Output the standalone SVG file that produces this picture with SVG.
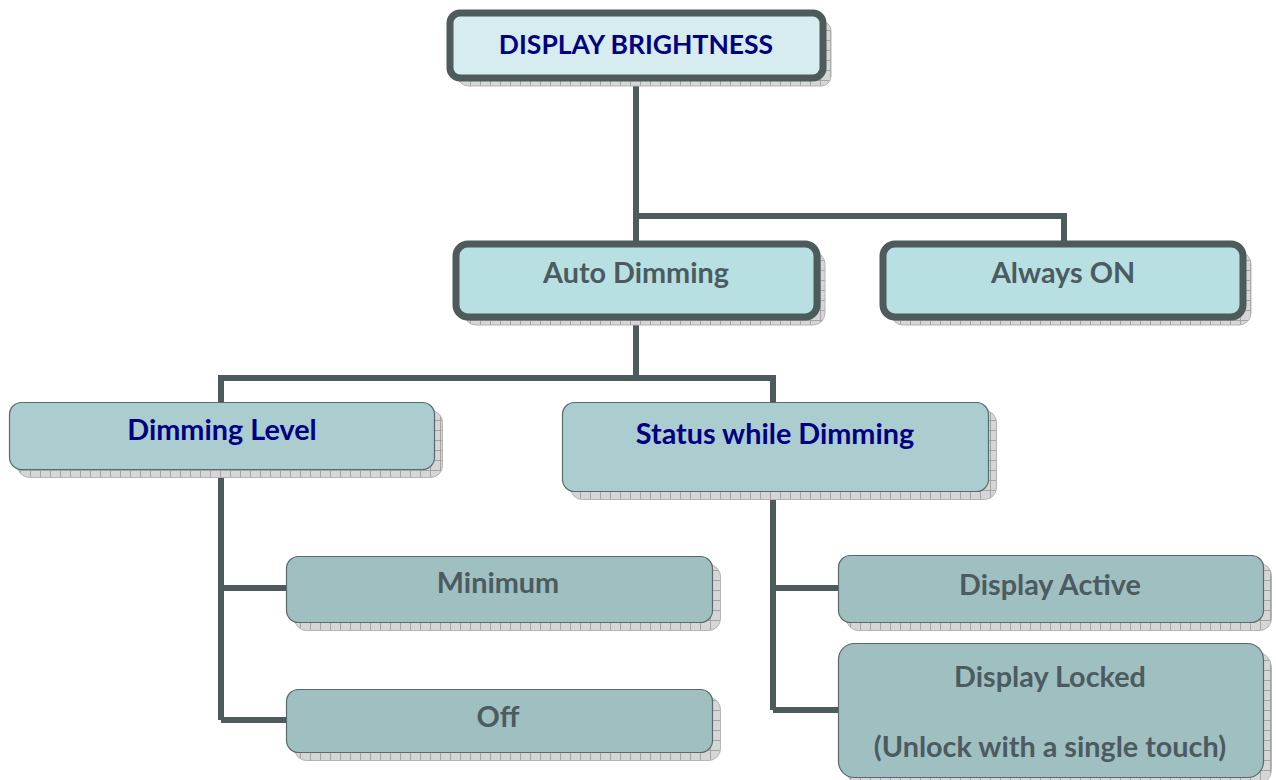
<svg xmlns="http://www.w3.org/2000/svg" width="1276" height="780" viewBox="0 0 1276 780">
<defs>
<pattern id="hatch" width="10" height="10" patternUnits="userSpaceOnUse">
<rect width="10" height="10" fill="#d6d6d6"/>
<path d="M0 0.5H10M0.5 0V10" stroke="#a4a4a4" stroke-width="1"/>
</pattern>
<style>
.shadow{fill:url(#hatch);stroke:#b4b4b4;stroke-width:1}
.thick{stroke:#4d5b5d;stroke-width:7}
.thin{stroke:#5a6a6c;stroke-width:1.2}
.t{font-family:Lato,"Liberation Sans",sans-serif;font-weight:bold;font-size:28.8px;text-anchor:middle}
.title{font-size:26.5px}
.navy{fill:#000080}
.grey{fill:#4b5b5f}
.conn{fill:none;stroke:#4d5b5d;stroke-width:6}
</style>
</defs>
<rect width="1276" height="780" fill="#ffffff"/>

<g id="connectors">
<path class="conn" d="M636 82V241M636 216H1064V241"/>
<path class="conn" d="M636 320V378M221 402V378H773V402"/>
<path class="conn" d="M221 470V720M221 588H286M221 720H286"/>
<path class="conn" d="M773 492V710M773 588H838M773 710H838"/>
</g>

<g id="display-brightness">
<rect class="shadow" x="458" y="21" width="373" height="65" rx="10"/>
<rect class="thick" x="450" y="13" width="373" height="65" rx="10" fill="#d7ecef"/>
<text class="t title navy" x="636" y="54">DISPLAY BRIGHTNESS</text>
</g>

<g id="auto-dimming">
<rect class="shadow" x="464" y="252" width="361" height="73" rx="12"/>
<rect class="thick" x="456" y="244" width="361" height="73" rx="12" fill="#b8dfe2"/>
<text class="t grey" x="636" y="283">Auto Dimming</text>
</g>

<g id="always-on">
<rect class="shadow" x="891" y="252" width="360" height="73" rx="12"/>
<rect class="thick" x="883" y="244" width="360" height="73" rx="12" fill="#b8dfe2"/>
<text class="t grey" x="1063" y="283">Always ON</text>
</g>

<g id="dimming-level">
<rect class="shadow" x="17.5" y="410.5" width="425" height="67" rx="12"/>
<rect class="thin" x="9.5" y="402.5" width="425" height="67" rx="12" fill="#accdd0"/>
<text class="t navy" x="222" y="440">Dimming Level</text>
</g>

<g id="status-while-dimming">
<rect class="shadow" x="570.5" y="410.5" width="426" height="89" rx="12"/>
<rect class="thin" x="562.5" y="402.5" width="426" height="89" rx="12" fill="#accdd0"/>
<text class="t navy" x="775" y="444">Status while Dimming</text>
</g>

<g id="minimum">
<rect class="shadow" x="294.5" y="564.5" width="426" height="66" rx="12"/>
<rect class="thin" x="286.5" y="556.5" width="426" height="66" rx="12" fill="#a0bfc1"/>
<text class="t grey" x="498" y="593">Minimum</text>
</g>

<g id="off">
<rect class="shadow" x="294.5" y="697.5" width="426" height="63" rx="12"/>
<rect class="thin" x="286.5" y="689.5" width="426" height="63" rx="12" fill="#a0bfc1"/>
<text class="t grey" x="498" y="727">Off</text>
</g>

<g id="display-active">
<rect class="shadow" x="846.5" y="563.5" width="425" height="67" rx="12"/>
<rect class="thin" x="838.5" y="555.5" width="425" height="67" rx="12" fill="#a0bfc1"/>
<text class="t grey" x="1050" y="595">Display Active</text>
</g>

<g id="display-locked">
<rect class="shadow" x="846.5" y="651.5" width="425" height="134" rx="16"/>
<rect class="thin" x="838.5" y="643.5" width="425" height="134" rx="16" fill="#a0bfc1"/>
<text class="t grey" x="1050" y="687">Display Locked</text>
<text class="t grey" x="1050" y="757">(Unlock with a single touch)</text>
</g>
</svg>
